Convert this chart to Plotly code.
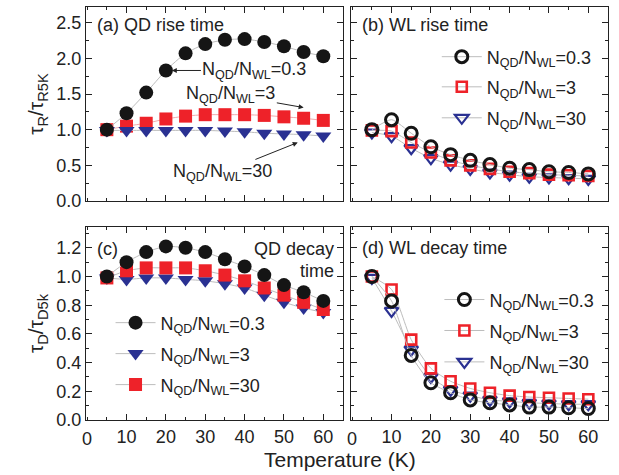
import plotly.graph_objects as go
from plotly.subplots import make_subplots

# Temperatures (K)
temps = [5, 10, 15, 20, 25, 30, 35, 40, 45, 50, 55, 60]
temp_ticks = [0, 10, 20, 30, 40, 50, 60]

# (a) QD rise time, normalised to 5 K
qd_rise_03 = [1.00, 1.23, 1.52, 1.83, 2.07, 2.20, 2.26, 2.27, 2.23, 2.17, 2.09, 2.03]
qd_rise_3 = [1.00, 1.05, 1.09, 1.15, 1.19, 1.21, 1.21, 1.21, 1.20, 1.18, 1.16, 1.13]
qd_rise_30 = [0.99, 0.99, 0.99, 0.99, 0.99, 0.99, 0.98, 0.97, 0.95, 0.94, 0.93, 0.91]

# (b) WL rise time
wl_rise_03 = [1.00, 1.14, 0.95, 0.76, 0.65, 0.57, 0.51, 0.46, 0.44, 0.41, 0.40, 0.38]
wl_rise_3 = [0.99, 0.98, 0.82, 0.68, 0.57, 0.50, 0.45, 0.41, 0.39, 0.37, 0.36, 0.35]
wl_rise_30 = [0.96, 0.91, 0.74, 0.60, 0.51, 0.45, 0.40, 0.37, 0.34, 0.33, 0.32, 0.31]

# (c) QD decay time
qd_decay_03 = [1.00, 1.10, 1.17, 1.21, 1.20, 1.17, 1.12, 1.07, 1.01, 0.94, 0.89, 0.83]
qd_decay_3 = [0.99, 0.98, 0.99, 0.99, 0.98, 0.97, 0.95, 0.92, 0.87, 0.82, 0.78, 0.75]
qd_decay_30 = [0.99, 1.04, 1.06, 1.06, 1.06, 1.04, 1.01, 0.97, 0.92, 0.87, 0.82, 0.77]

# (d) WL decay time
wl_decay_03 = [1.00, 0.83, 0.45, 0.26, 0.19, 0.14, 0.12, 0.105, 0.09, 0.09, 0.085, 0.08]
wl_decay_3 = [1.00, 0.91, 0.56, 0.36, 0.27, 0.22, 0.19, 0.17, 0.16, 0.155, 0.15, 0.145]
wl_decay_30 = [0.99, 0.76, 0.49, 0.30, 0.21, 0.17, 0.14, 0.13, 0.12, 0.115, 0.11, 0.11]

ratio_labels = ["N<sub>QD</sub>/N<sub>WL</sub>=0.3",
                "N<sub>QD</sub>/N<sub>WL</sub>=3",
                "N<sub>QD</sub>/N<sub>WL</sub>=30"]

BLACK = "#151515"
RED = "#ee2229"
BLUE = "#2a3192"
GREY_LINE = "#bdbdbd"
PINK_LINE = "#f3a9ab"
FONT = "Liberation Sans, Arial, sans-serif"

fig = make_subplots(rows=2, cols=2, horizontal_spacing=0.0154, vertical_spacing=0.063)

# manual domains (paper coords)
xl, xr = [0, 0.4923], [0.5077, 1.0]
yb, yt = [0, 0.4673], [0.5303, 1.0]


def add(row, col, y, symbol, color, size, name, legend, show, line_color=GREY_LINE, lw=None):
    open_marker = symbol.endswith("-open")
    fig.add_trace(go.Scatter(
        x=temps, y=y, mode="lines+markers", name=name,
        line=dict(color=line_color, width=1, shape="spline", smoothing=0.6),
        marker=dict(symbol=symbol, size=size, color=color,
                    line=dict(color=color, width=lw if lw else (0 if not open_marker else 2.6))),
        legend=legend, showlegend=show,
    ), row=row, col=col)


# (a)
add(1, 1, qd_rise_3, "square", RED, 13, ratio_labels[1], "legend", False, PINK_LINE)
add(1, 1, qd_rise_30, "triangle-down", BLUE, 14, ratio_labels[2], "legend", False)
add(1, 1, qd_rise_03, "circle", BLACK, 14, ratio_labels[0], "legend", False)

# (b) - one legend box per entry
add(1, 2, wl_rise_30, "triangle-down-open", BLUE, 12, ratio_labels[2], "legend3", True, lw=2.2)
add(1, 2, wl_rise_3, "square-open", RED, 10, ratio_labels[1], "legend2", True, lw=2.6)
add(1, 2, wl_rise_03, "circle-open", BLACK, 12, ratio_labels[0], "legend", True, lw=3)

# (c)
add(2, 1, qd_decay_3, "triangle-down", BLUE, 14, ratio_labels[1], "legend5", True)
add(2, 1, qd_decay_30, "square", RED, 13, ratio_labels[2], "legend6", True)
add(2, 1, qd_decay_03, "circle", BLACK, 14, ratio_labels[0], "legend4", True)

# (d)
add(2, 2, wl_decay_30, "triangle-down-open", BLUE, 12, ratio_labels[2], "legend9", True, lw=2.2)
add(2, 2, wl_decay_3, "square-open", RED, 10, ratio_labels[1], "legend8", True, lw=2.6)
add(2, 2, wl_decay_03, "circle-open", BLACK, 12, ratio_labels[0], "legend7", True, lw=3)

tick_font = dict(family=FONT, size=18, color="#222")
axis_common = dict(
    showline=True, mirror="ticks", linecolor="#222", linewidth=1.3,
    ticks="inside", ticklen=6, tickwidth=1.1, tickcolor="#222",
    showgrid=False, zeroline=False, ticklabeloverflow="allow",
    tickfont=tick_font,
    minor=dict(ticks="inside", ticklen=3, tickcolor="#222", showgrid=False),
)

# the origin tick lies on the frame corner; its label is written as an annotation below
inner_ticks = temp_ticks[1:]
for ax_name, dom in [("xaxis", xl), ("xaxis2", xr), ("xaxis3", xl), ("xaxis4", xr)]:
    fig.layout[ax_name].update(domain=dom, range=[-0.3, 65], tickmode="array",
                               tickvals=inner_ticks, ticktext=[str(t) for t in inner_ticks],
                               minor_dtick=5, minor_tick0=0, **axis_common)
fig.layout.xaxis.update(showticklabels=False)
fig.layout.xaxis2.update(showticklabels=False)

for xref in ("x3", "x4"):
    fig.add_annotation(xref=xref, yref="paper", x=temp_ticks[0], y=0, yanchor="top",
                       yshift=-7, text=str(temp_ticks[0]), showarrow=False, font=tick_font)

fig.layout.yaxis.update(domain=yt, range=[0, 2.72], dtick=0.5, minor_dtick=0.25,
                        tickformat=".1f", **axis_common)
fig.layout.yaxis2.update(domain=yt, range=[0, 2.72], dtick=0.5, minor_dtick=0.25,
                         showticklabels=False, **axis_common)
fig.layout.yaxis3.update(domain=yb, range=[0, 1.345], dtick=0.2, minor_dtick=0.1,
                         tickformat=".1f", **axis_common)
fig.layout.yaxis4.update(domain=yb, range=[0, 1.345], dtick=0.2, minor_dtick=0.1,
                         showticklabels=False, **axis_common)

title_font = dict(family=FONT, size=21, color="#222")
fig.layout.yaxis.update(title=dict(text="τ<sub>R</sub>/τ<sub>R5K</sub>", font=title_font, standoff=6))
fig.layout.yaxis3.update(title=dict(text="τ<sub>D</sub>/τ<sub>D5k</sub>", font=title_font, standoff=6))

# shared x title
fig.add_annotation(xref="paper", yref="paper", x=0.487, y=-0.062, yanchor="top",
                   text="Temperature (K)", showarrow=False, font=title_font)

lab_font = dict(family=FONT, size=18, color="#222")
panel_labels = [
    ("x", "y", 2.0, 2.47, "(a) QD rise time"),
    ("x2", "y2", 2.0, 2.47, "(b) WL rise time"),
    ("x3", "y3", 2.0, 1.19, "(c)"),
    ("x4", "y4", 2.0, 1.20, "(d) WL decay time"),
]
for xr_, yr_, x, y, txt in panel_labels:
    fig.add_annotation(xref=xr_, yref=yr_, x=x, y=y, text=txt, showarrow=False,
                       xanchor="left", font=lab_font)
fig.add_annotation(xref="x3", yref="y3", x=63.3, y=1.19, text="QD decay", showarrow=False,
                   xanchor="right", font=lab_font)
fig.add_annotation(xref="x3", yref="y3", x=63.3, y=1.04, text="time", showarrow=False,
                   xanchor="right", font=lab_font)

# arrow labels in panel (a)
arrow_kw = dict(showarrow=True, arrowhead=2, arrowsize=1, arrowwidth=1, arrowcolor="#222",
                axref="x", ayref="y", xref="x", yref="y", font=lab_font)
fig.add_annotation(x=21.5, y=1.83, ax=42.5, ay=1.83, text=ratio_labels[0], **arrow_kw)
fig.add_annotation(x=55, y=1.31, ax=36.5, ay=1.49, text=ratio_labels[1], **arrow_kw)
fig.add_annotation(x=53.5, y=0.82, ax=34.5, ay=0.40, text=ratio_labels[2], **arrow_kw)

leg_common = dict(font=dict(family=FONT, size=18, color="#222"), bgcolor="rgba(0,0,0,0)",
                  borderwidth=0, itemwidth=40, xanchor="left", yanchor="middle")
# (x, y) paper positions for each single-entry legend
legend_pos = {
    "legend": (0.672, 0.879), "legend2": (0.672, 0.806), "legend3": (0.672, 0.731),
    "legend4": (0.047, 0.235), "legend5": (0.047, 0.160), "legend6": (0.047, 0.085),
    "legend7": (0.677, 0.291), "legend8": (0.677, 0.216), "legend9": (0.677, 0.140),
}
fig.update_layout(**{k: dict(x=v[0], y=v[1], **leg_common) for k, v in legend_pos.items()})

fig.update_layout(
    width=619, height=475,
    margin=dict(l=86, r=11, t=7, b=55),
    paper_bgcolor="white", plot_bgcolor="white",
    font=dict(family=FONT),
)

fig.write_html("out.html")
